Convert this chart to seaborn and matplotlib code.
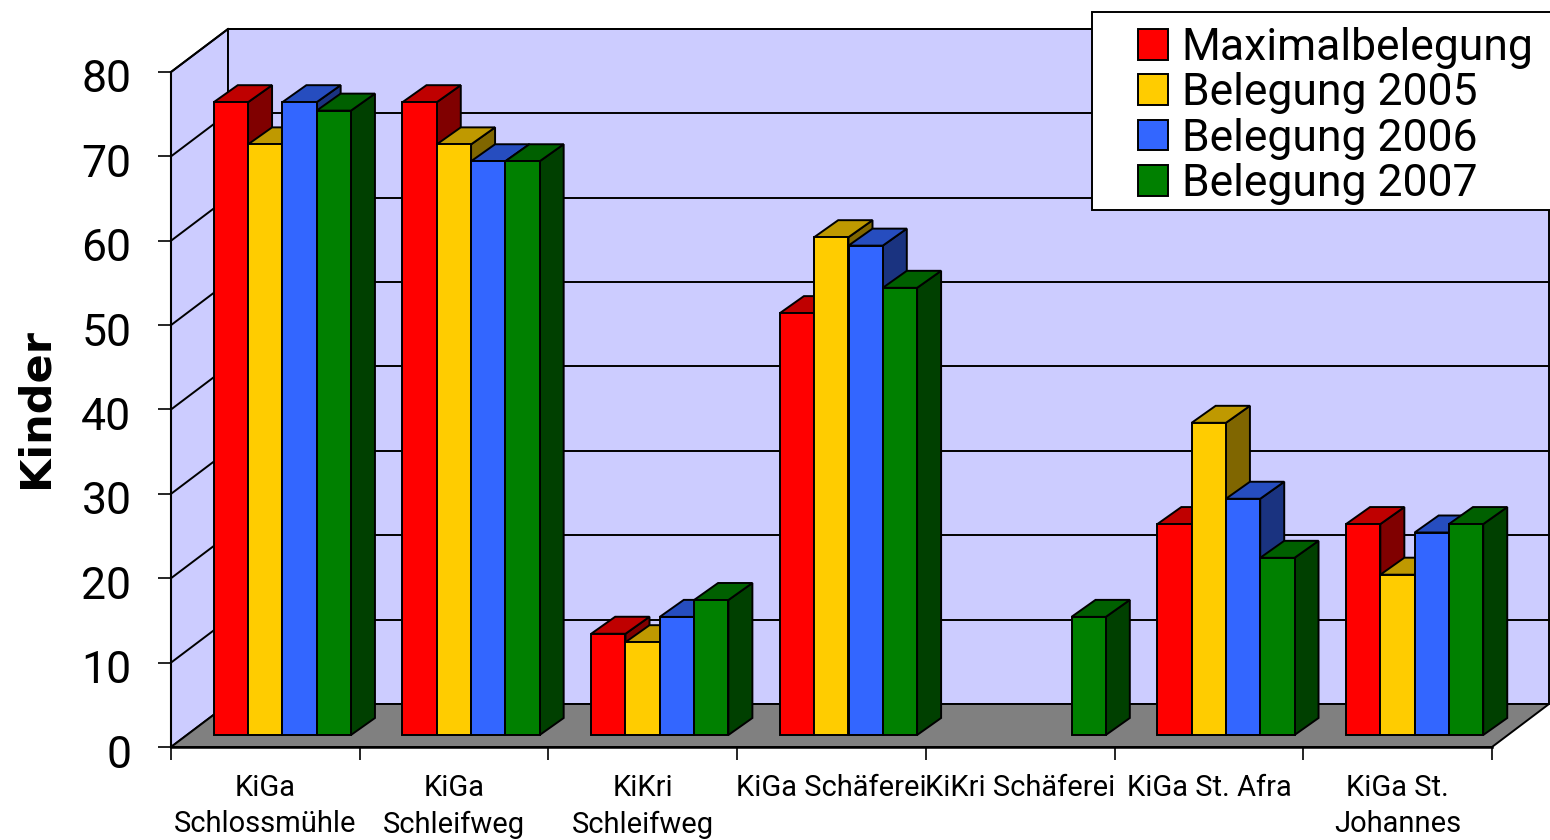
import numpy as np
import pandas as pd
import matplotlib
matplotlib.use("Agg")
import matplotlib.pyplot as plt
from matplotlib.patches import Polygon, Rectangle
from matplotlib.transforms import Affine2D, IdentityTransform
import seaborn as sns

kitas = ["KiGa\nSchlossmühle", "KiGa\nSchleifweg", "KiKri\nSchleifweg", "KiGa Schäferei",
         "KiKri Schäferei", "KiGa St. Afra", "KiGa St.\nJohannes"]
maximal = [75, 75, 12, 50, np.nan, 25, 25]
bel2005 = [70, 70, 11, 59, np.nan, 37, 19]
bel2006 = [75, 68, 14, 58, np.nan, 28, 24]
bel2007 = [74, 68, 16, 53, 14, 21, 25]
series = ["Maximalbelegung", "Belegung 2005", "Belegung 2006", "Belegung 2007"]
colors = ["#FF0000", "#FFCC00", "#3366FF", "#008000"]
yticks = [0, 10, 20, 30, 40, 50, 60, 70, 80]

sns.set_style("white")
plt.rcParams["font.family"] = ["Roboto", "DejaVu Sans"]
plt.rcParams["text.color"] = "black"
plt.rcParams["xtick.color"] = "black"
plt.rcParams["ytick.color"] = "black"

W, H = 1550, 840
fig = plt.figure(figsize=(W / 100, H / 100), dpi=100)
# front plane of the 3D box
ax = fig.add_axes([171 / W, 1 - 747 / H, (1492 - 171) / W, (747 - 72) / H])

df = pd.DataFrame({"kita": kitas, series[0]: maximal, series[1]: bel2005,
                   series[2]: bel2006, series[3]: bel2007})
long = df.melt(id_vars="kita", var_name="serie", value_name="kinder")

lw = 1.4
sns.barplot(data=long, x="kita", y="kinder", hue="serie", hue_order=series, palette=colors,
            saturation=1, width=0.727, gap=0, edgecolor="black", linewidth=lw, ax=ax)
ax.set_xlim(-0.5, 6.5)
ax.set_ylim(0, 80)
ax.patch.set_visible(False)
for s in ax.spines.values():
    s.set_visible(False)

depth_wall = np.array([57, 43])   # px, front plane to back wall
bar_shift = np.array([17, 12])    # px, front plane to front of bars
bar_depth = np.array([24, 17])    # px, depth of a bar


def to_px(x, y):
    return ax.transData.transform((x, y))


def face(points, color, z):
    ax.add_patch(Polygon(points, closed=True, facecolor=color, edgecolor="black", linewidth=lw,
                         transform=IdentityTransform(), clip_on=False, zorder=z))


def line(a, b, z=1.5, width=lw):
    ax.plot([a[0], b[0]], [a[1], b[1]], color="black", lw=width, transform=IdentityTransform(),
            clip_on=False, zorder=z, solid_capstyle="projecting")


# legend entries must be taken before the wall and bar faces are added
handles, labels = ax.get_legend_handles_labels()
ax.get_legend().remove()

# walls and floor
x0, x1 = -0.5, 6.5
bl, br, tl = to_px(x0, 0), to_px(x1, 0), to_px(x0, 80)
face([bl, tl, tl + depth_wall, bl + depth_wall], "#CCCCFF", 1)
face([bl + depth_wall, tl + depth_wall, to_px(x1, 80) + depth_wall, br + depth_wall], "#CCCCFF", 1)
face([bl, br, br + depth_wall, bl + depth_wall], "#808080", 1.2)
for v in yticks[1:]:
    p = to_px(x0, v)
    line(p, p + depth_wall)
    line(p + depth_wall, to_px(x1, v) + depth_wall)

# bars: seaborn draws the fronts, sides and tops follow from each patch
shift = Affine2D().translate(*bar_shift)
bars = [p for p in ax.patches if isinstance(p, Rectangle) and p.get_height() > 0]
bars = sorted(bars, key=lambda p: p.get_x())
z = 3
for b in bars:
    rgb = np.array(b.get_facecolor()[:3])
    left, right, top = b.get_x(), b.get_x() + b.get_width(), b.get_height()
    a = to_px(left, top) + bar_shift
    c = to_px(right, top) + bar_shift
    d = to_px(right, 0) + bar_shift
    face([c, d, d + bar_depth, c + bar_depth], tuple(rgb * 0.5), z)
    face([a, c, c + bar_depth, a + bar_depth], tuple(rgb * 0.75), z + 0.1)
    b.set_transform(ax.transData + shift)
    b.set_clip_on(False)
    b.set_zorder(z + 0.2)
    z += 1

# axes lines and ticks
line(bl, tl, z=2, width=1.5)
line(bl, br, z=2, width=1.8)
ax.set_yticks(yticks)
ax.set_xticks(np.arange(7))
ax.set_xticklabels(kitas, linespacing=1.38)
ax.set_xticks(np.arange(-0.5, 7), minor=True)
ax.tick_params(axis="y", left=True, length=9.5, width=1.2, labelsize=32, pad=19)
ax.tick_params(axis="x", which="major", bottom=False, labelsize=21, pad=16)
ax.tick_params(axis="x", which="minor", bottom=True, length=9.5, width=1.2)
for lab in ax.get_yticklabels():
    lab.set_transform(lab.get_transform() + Affine2D().translate(0, -4))
ax.set_xlabel("")
ax.set_ylabel("")
fig.text(35 / W, 1 - 408 / H, "Kinder", rotation=90, fontsize=31, fontweight="bold",
         family="DejaVu Sans", ha="center", va="center")

# legend box runs off the right edge of the picture
fig.add_artist(Rectangle((1092 / W, 1 - 210 / H), 470 / W, 198 / H, transform=fig.transFigure,
                         facecolor="white", edgecolor="black", linewidth=lw, zorder=50))
leg = fig.legend(handles, labels, loc="upper left", bbox_to_anchor=(1138 / W, 1 - 27 / H),
                 frameon=False, fontsize=32, handlelength=0.68, handleheight=0.68,
                 handletextpad=0.3, labelspacing=0.075, borderpad=0, borderaxespad=0)
leg.set_zorder(60)

fig.savefig("out.png", dpi=100)
